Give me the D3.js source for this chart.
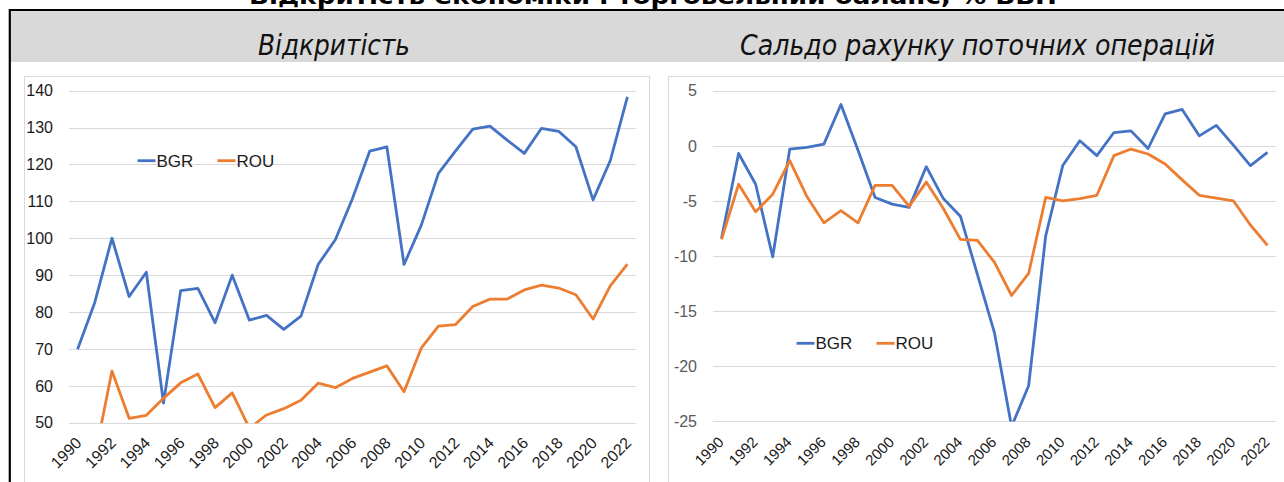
<!DOCTYPE html>
<html>
<head>
<meta charset="utf-8">
<script src="https://cdn.jsdelivr.net/npm/d3@7"></script>
<style>
  body { margin: 0; background: #fff; }
  svg { display: block; font-family: "Liberation Sans", Arial, sans-serif; }
</style>
</head>
<body>
<svg id="chart" width="1284" height="482"></svg>
<script>
// chart data
const years = d3.range(1990, 2023);
const series = ["BGR", "ROU"];
const colors = ["#4472C4", "#ED7D31"];

// openness, % of GDP
const bgrOpen = [69.9, 82.6, 100, 84.2, 90.8, 55.3, 85.8, 86.4, 77.1, 90.0, 77.8, 79.1, 75.3, 78.9, 92.9,
  99.6, 110.8, 123.6, 124.8, 92.9, 103.5, 117.6, 123.7, 129.6, 130.4, 126.6, 123.0, 129.8, 129.0, 124.8,
  110.4, 121.0, 138.3];
const rouOpen = [45, 40.7, 64.0, 51.2, 52.0, 56.6, 60.8, 63.2, 54.1, 58.1, 48.5, 52.1, 53.8, 56.1, 60.7,
  59.5, 62.0, 63.7, 65.4, 58.4, 70.2, 76.2, 76.6, 81.5, 83.5, 83.5, 86.0, 87.3, 86.5, 84.7,
  78.1, 87.1, 93.0];

// current account balance, % of GDP
const bgrCA = [-8.4, -0.7, -3.5, -10.1, -0.3, -0.15, 0.15, 3.75, -0.4, -4.7, -5.3, -5.6, -1.9, -4.8, -6.4,
  -11.7, -17.0, -25.5, -21.8, -8.2, -1.8, 0.45, -0.9, 1.2, 1.35, -0.25, 2.9, 3.3, 0.9, 1.85,
  0.05, -1.8, -0.6];
const rouCA = [-8.5, -3.5, -6.0, -4.4, -1.35, -4.6, -7.0, -5.9, -7.0, -3.6, -3.6, -5.5, -3.3, -5.7, -8.5,
  -8.6, -10.6, -13.6, -11.6, -4.7, -5.0, -4.8, -4.5, -0.9, -0.3, -0.75, -1.65, -3.1, -4.5, -4.75,
  -5.0, -7.2, -9.05];

const openTicks = [50, 60, 70, 80, 90, 100, 110, 120, 130, 140];
const caTicks = [-25, -20, -15, -10, -5, 0, 5];

const mainTitle = "Відкритість економіки і торговельний баланс, % ВВП";
const panelTitles = ["Відкритість", "Сальдо рахунку поточних операцій"];

const svg = d3.select("#chart");

// bold page title, mostly cut off at the top
svg.append("text")
  .attr("x", 653).attr("y", 4)
  .attr("text-anchor", "middle")
  .attr("font-family", "'DejaVu Sans', Verdana, sans-serif")
  .attr("font-weight", "bold")
  .attr("font-size", 23)
  .attr("textLength", 808)
  .attr("lengthAdjust", "spacingAndGlyphs")
  .text(mainTitle);

// grey header band with the two panel titles
svg.append("rect")
  .attr("x", 10).attr("y", 10).attr("width", 1284).attr("height", 52)
  .attr("fill", "#d9d9d9");
svg.append("line").attr("x1", 9).attr("x2", 1284).attr("y1", 10).attr("y2", 10)
  .attr("stroke", "#000").attr("stroke-width", 2.2);
svg.append("line").attr("x1", 9.8).attr("x2", 9.8).attr("y1", 9).attr("y2", 482)
  .attr("stroke", "#000").attr("stroke-width", 2.2);

const titleSpots = [{x: 258, w: 152}, {x: 740, w: 475}];
panelTitles.forEach((t, i) => {
  svg.append("text")
    .attr("x", titleSpots[i].x).attr("y", 55)
    .attr("font-family", "'DejaVu Sans Condensed', 'DejaVu Sans', sans-serif")
    .attr("font-stretch", "condensed")
    .attr("font-style", "italic")
    .attr("font-size", 28)
    .attr("fill", "#111")
    .attr("textLength", titleSpots[i].w)
    .attr("lengthAdjust", "spacingAndGlyphs")
    .text(t);
});

function drawPanel(cfg) {
  const g = svg.append("g");

  // panel frame
  g.append("rect")
    .attr("x", cfg.frame[0] + 0.5).attr("y", 76.5)
    .attr("width", cfg.frame[1] - cfg.frame[0]).attr("height", 420)
    .attr("fill", "#fff").attr("stroke", "#d9d9d9");

  const x = d3.scaleBand().domain(years).range([cfg.left, cfg.right]).padding(0);
  const xc = d => x(d) + x.bandwidth() / 2;
  const y = d3.scaleLinear().domain(d3.extent(cfg.ticks)).range([cfg.bottom, 90.7]);

  // gridlines
  g.append("g").selectAll("line").data(cfg.ticks).join("line")
    .attr("x1", cfg.left).attr("x2", cfg.right)
    .attr("y1", d => Math.round(y(d)) + 0.5).attr("y2", d => Math.round(y(d)) + 0.5)
    .attr("stroke", "#d9d9d9").attr("stroke-width", 1);

  // y axis labels
  g.append("g").selectAll("text").data(cfg.ticks).join("text")
    .attr("x", cfg.left - 16).attr("y", d => y(d))
    .attr("dy", "0.36em")
    .attr("text-anchor", "end")
    .attr("font-size", 16)
    .attr("fill", cfg.yColor)
    .text(d => d);

  // x axis labels, every other year
  g.append("g").selectAll("text").data(years.filter(d => d % 2 === 0)).join("text")
    .attr("transform", d => `translate(${xc(d) + cfg.labDx},${cfg.labY}) rotate(-45)`)
    .attr("text-anchor", "end")
    .attr("font-size", cfg.xFont)
    .attr("fill", "#1a1a1a")
    .text(d => d);

  // lines, clipped to the plot area
  const clipId = "clip" + cfg.id;
  svg.append("clipPath").attr("id", clipId)
    .append("rect")
    .attr("x", cfg.left).attr("y", 80)
    .attr("width", cfg.right - cfg.left).attr("height", cfg.bottom - 80 + 0.5);

  const line = d3.line().x((d, i) => xc(years[i])).y(d => y(d));
  g.append("g").attr("clip-path", `url(#${clipId})`)
    .selectAll("path").data(cfg.values).join("path")
    .attr("d", d => line(d))
    .attr("fill", "none")
    .attr("stroke", (d, i) => colors[i])
    .attr("stroke-width", 2.8)
    .attr("stroke-linejoin", "round");

  // legend
  const lg = g.append("g").attr("transform", `translate(${cfg.legend[0]},${cfg.legend[1]})`);
  series.forEach((s, i) => {
    const off = i * 80;
    lg.append("line")
      .attr("x1", off).attr("x2", off + 18).attr("y1", 0).attr("y2", 0)
      .attr("stroke", colors[i]).attr("stroke-width", 2.8);
    lg.append("text")
      .attr("x", off + 19).attr("y", 0).attr("dy", "0.36em")
      .attr("font-size", 17).attr("fill", "#1a1a1a")
      .text(s);
  });
}

drawPanel({
  id: "open", frame: [24, 649], left: 69, right: 636, bottom: 422.7,
  ticks: openTicks, values: [bgrOpen, rouOpen], yColor: "#1a1a1a",
  xFont: 16, labDx: 5, labY: 444, legend: [137.5, 160.7]
});

drawPanel({
  id: "ca", frame: [668, 1300], left: 713, right: 1276, bottom: 421,
  ticks: caTicks, values: [bgrCA, rouCA], yColor: "#595959",
  xFont: 15, labDx: 3, labY: 443, legend: [796.5, 343.3]
});
</script>
</body>
</html>
